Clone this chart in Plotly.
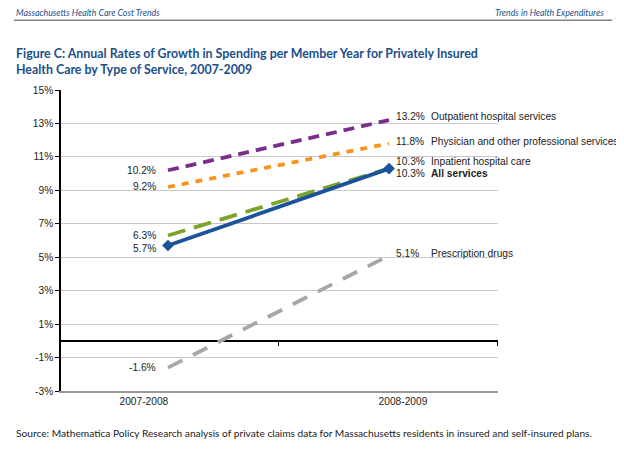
import plotly.graph_objects as go

# data
periods = ["2007-2008", "2008-2009"]
services = ["Outpatient hospital services", "Physician and other professional services",
            "Inpatient hospital care", "All services", "Prescription drugs"]
start_vals = [10.2, 9.2, 6.3, 5.7, -1.6]
end_vals = [13.2, 11.8, 10.3, 10.3, 5.1]
y_ticks = [-3, -1, 1, 3, 5, 7, 9, 11, 13, 15]

# styles
colors = ["#7B2D8E", "#F7941D", "#7BA428", "#1A539A", "#A6A6A6"]
dash_styles = ["11px,7px", "7px,7px", "18px,9px", "solid", "16px,12px"]
left_shift = [0, 0, 0, -3, 0]
right_shift = [4, 2, 7, -5, 2]
navy = "#1B4F8A"
label_font = dict(family="Liberation Sans", size=10.2, color="#222")
x_range = [-0.484, 1.493]

fig = go.Figure()
xs = [0, 1]
for i, name in enumerate(services):
    solid = dash_styles[i] == "solid"
    fig.add_trace(go.Scatter(
        x=xs, y=[start_vals[i], end_vals[i]], name=name,
        mode="lines+markers" if solid else "lines",
        line=dict(color=colors[i], width=3.8, dash=dash_styles[i]),
        marker=dict(symbol="diamond", size=9, color=colors[i]),
    ))

    fig.add_annotation(x=0, y=start_vals[i], text=f"{start_vals[i]}%", showarrow=False,
                       xanchor="right", xshift=-10, yshift=left_shift[i], font=label_font)
    fig.add_annotation(x=1, y=end_vals[i], text=f"{end_vals[i]}%", showarrow=False,
                       xanchor="left", xshift=5, yshift=right_shift[i], font=label_font)
    label = f"<b>{name}</b>" if name == "All services" else name
    fig.add_annotation(x=1, y=end_vals[i], text=label, showarrow=False,
                       xanchor="left", xshift=40, yshift=right_shift[i], font=label_font)

# header, title, source (paper coords relative to the plot area)
fig.add_annotation(xref="paper", yref="paper", x=-0.1076, y=1.256, xanchor="left", yanchor="middle",
                   text="<i>Massachusetts Health Care Cost Trends</i>", showarrow=False,
                   font=dict(family="Lato", size=8.8, color=navy))
fig.add_annotation(xref="paper", yref="paper", x=1.246, y=1.256, xanchor="right", yanchor="middle",
                   text="<i>Trends in Health Expenditures</i>", showarrow=False,
                   font=dict(family="Lato", size=8.8, color=navy))
fig.add_shape(type="line", xref="paper", yref="paper", x0=-0.1076, x1=1.261, y0=1.232, y1=1.232,
              line=dict(color="#444", width=1))
fig.add_annotation(xref="paper", yref="paper", x=-0.1076, y=1.096, xanchor="left", yanchor="middle",
                   align="left", showarrow=False,
                   text="<b>Figure C: Annual Rates of Growth in Spending per Member Year for Privately Insured<br>"
                        "Health Care by Type of Service, 2007-2009</b>",
                   font=dict(family="Lato", size=12.4, color=navy))
fig.add_annotation(xref="paper", yref="paper", x=-0.1076, y=-0.1395, xanchor="left", yanchor="middle",
                   showarrow=False,
                   text="Source: Mathematica Policy Research analysis of private claims data for "
                        "Massachusetts residents in insured and self-insured plans.",
                   font=dict(family="Lato", size=10.2, color="#222"))

fig.update_layout(
    width=616, height=442,
    margin=dict(l=53, r=126, t=82, b=59),
    paper_bgcolor="white", plot_bgcolor="white",
    showlegend=False,
    xaxis=dict(range=x_range, tickvals=[-0.109, 1.063], ticktext=periods,
               showgrid=False, zeroline=False, showline=True, linecolor="#999", linewidth=2,
               ticks="", tickfont=dict(family="Liberation Sans", size=10.2, color="#222")),
    # category boundary ticks that hang below the zero line
    xaxis2=dict(range=x_range, overlaying="x", anchor="free", position=3 / 18, side="bottom",
                tickvals=[0.5, 1.49], ticks="outside", ticklen=4, tickcolor="black",
                showticklabels=False, showgrid=False, zeroline=False, showline=False),
    yaxis=dict(range=[-3, 15], tickvals=y_ticks, ticktext=[f"{v}%" for v in y_ticks],
               showgrid=True, gridcolor="#C8C8C8", gridwidth=1,
               zeroline=True, zerolinecolor="black", zerolinewidth=1.5,
               showline=True, linecolor="black", linewidth=1.5,
               ticks="outside", ticklen=4, tickcolor="black",
               tickfont=dict(family="Liberation Sans", size=10.2, color="#222")),
)
# an invisible trace so the second x axis is drawn
fig.add_trace(go.Scatter(x=[None], y=[None], xaxis="x2", showlegend=False, hoverinfo="skip"))

fig.write_html("out.html")
